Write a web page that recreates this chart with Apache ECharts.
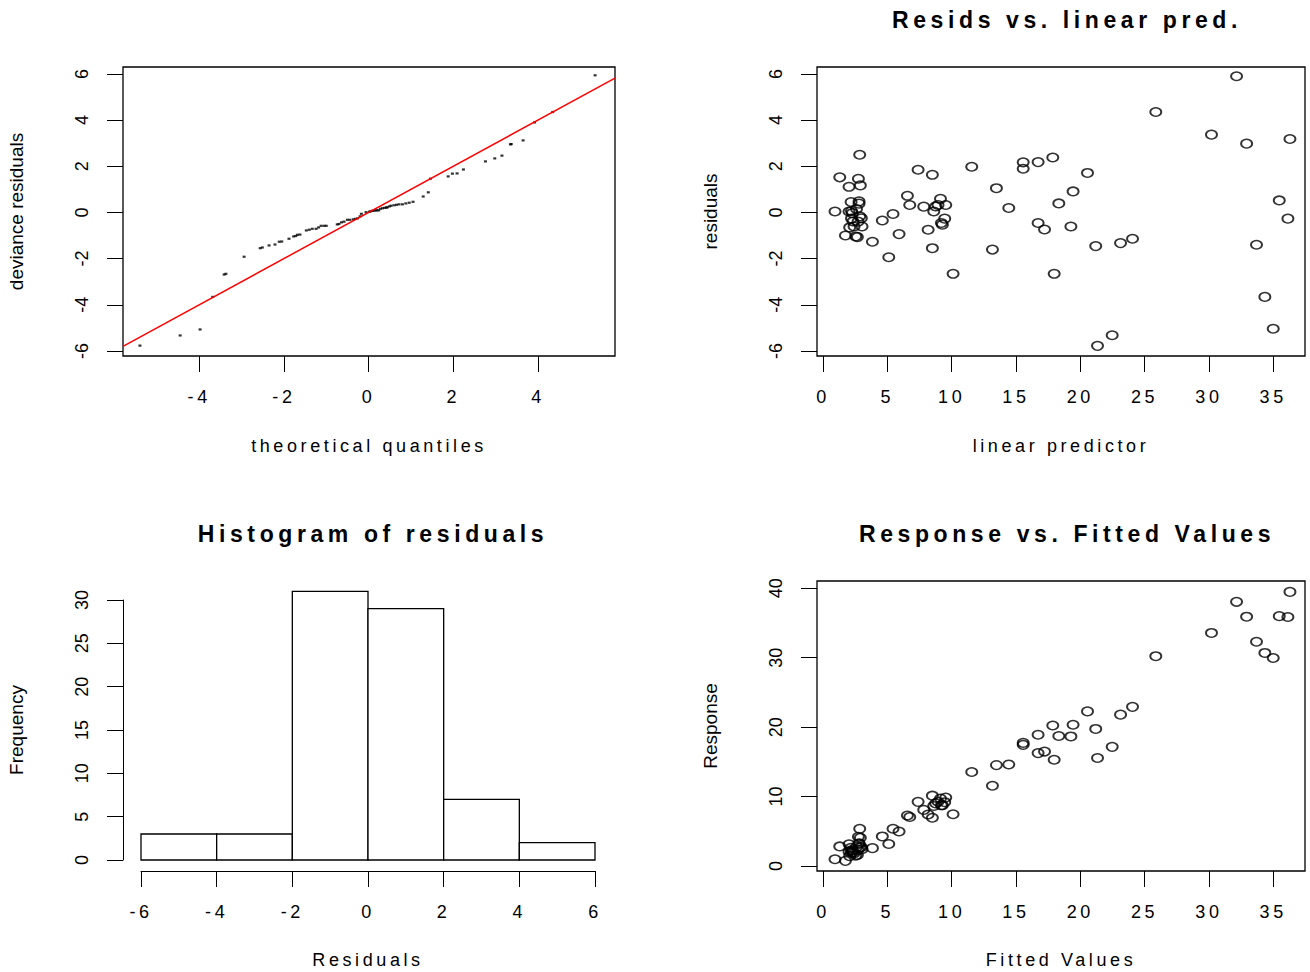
<!DOCTYPE html>
<html><head><meta charset="utf-8">
<script src="https://cdn.jsdelivr.net/npm/echarts@6/dist/echarts.min.js"></script>
<style>html,body{margin:0;padding:0;background:#fff}#chart{width:1310px;height:972px}</style>
</head><body><div id="chart"></div>
<script>
// ---- data ----
const fitted = [32.15,25.87,30.20,32.93,36.30,2.85,7.39,8.50,11.56,15.56,
  15.56,16.72,17.86,20.56,1.30,2.75,2.02,2.90,13.48,19.44,
  6.56,6.74,7.83,9.13,8.76,8.94,9.54,8.61,14.44,18.33,
  35.47,36.14,0.93,2.02,2.18,2.80,2.80,2.28,2.98,2.33,
  2.07,2.41,3.03,1.74,2.67,2.54,3.84,4.61,5.44,5.91,
  5.11,8.17,8.50,9.46,9.28,9.20,10.11,13.17,16.72,17.22,
  17.97,19.27,21.20,23.13,24.06,21.34,22.48,33.70,34.35,35.00,
  2.21,2.60,2.85,2.21,2.72];
const resid = [5.90,4.35,3.37,2.98,3.18,2.50,1.85,1.63,1.98,2.17,
  1.89,2.18,2.38,1.71,1.52,1.46,1.11,1.17,1.05,0.91,
  0.72,0.32,0.25,0.59,0.26,0.32,0.32,0.04,0.19,0.39,
  0.52,-0.27,0.04,0.04,0.45,0.48,0.38,-0.03,-0.25,-0.39,
  -0.65,-0.61,-0.61,-1.00,-1.07,-1.04,-1.27,-0.35,-0.07,-0.94,
  -1.94,-0.75,-1.55,-0.27,-0.53,-0.46,-2.66,-1.61,-0.46,-0.74,
  -2.66,-0.61,-1.46,-1.33,-1.14,-5.78,-5.32,-1.40,-3.66,-5.04,
  0.06,0.15,-0.17,-0.26,-0.40];
const response = [38.05,30.22,33.57,35.91,39.48,5.35,9.24,10.13,13.54,17.73,
  17.45,18.90,20.24,22.27,2.82,4.21,3.13,4.07,14.53,20.35,
  7.28,7.06,8.08,9.72,9.02,9.26,9.86,8.65,14.63,18.72,
  35.99,35.87,0.97,2.06,2.63,3.28,3.18,2.25,2.73,1.94,
  1.42,1.80,2.42,0.74,1.60,1.50,2.57,4.26,5.37,4.97,
  3.17,7.42,6.95,9.19,8.75,8.74,7.45,11.56,16.26,16.48,
  15.31,18.66,19.74,21.80,22.92,15.56,17.16,32.30,30.69,29.96,
  2.27,2.75,2.68,1.95,2.32];
const qqTheo = [-5.40,-4.45,-3.98,-3.68,-3.41,-3.37,-2.94,-2.56,-2.51,-2.35,
  -2.21,-2.11,-2.05,-1.88,-1.77,-1.72,-1.68,-1.62,-1.47,-1.40,
  -1.33,-1.24,-1.18,-1.12,-1.05,-1.00,-0.74,-0.70,-0.64,-0.58,
  -0.50,-0.44,-0.36,-0.31,-0.26,-0.20,-0.17,-0.06,0.02,0.05,
  0.09,0.13,0.16,0.20,0.24,0.28,0.33,0.38,0.42,0.44,
  0.49,0.53,0.60,0.66,0.72,0.80,0.88,0.96,1.05,1.29,
  1.41,1.46,1.88,1.98,2.09,2.24,2.76,2.98,3.15,3.35,
  3.37,3.65,3.92,4.35,5.35];
const qqResid = [-5.77,-5.33,-5.07,-3.66,-2.69,-2.66,-1.92,-1.55,-1.52,-1.43,
  -1.39,-1.27,-1.26,-1.14,-1.04,-1.02,-0.97,-0.96,-0.78,-0.75,
  -0.71,-0.71,-0.65,-0.58,-0.58,-0.58,-0.52,-0.50,-0.43,-0.40,
  -0.32,-0.32,-0.30,-0.28,-0.26,-0.17,-0.06,0.01,0.03,0.05,
  0.07,0.08,0.09,0.09,0.09,0.16,0.18,0.20,0.21,0.22,
  0.26,0.29,0.31,0.33,0.35,0.35,0.39,0.42,0.46,0.69,
  0.87,1.46,1.56,1.68,1.69,1.86,2.21,2.34,2.46,2.95,
  2.96,3.12,3.90,4.35,5.94];
const histBreaks = [-6,-4,-2,0,2,4,6];
const histCounts = [3,3,31,29,7,2];
const qqXTicks = [-4,-2,0,2,4];
const residTicks = [-6,-4,-2,0,2,4,6];
const fittedTicks = [0,5,10,15,20,25,30,35];
const responseTicks = [0,10,20,30,40];
const titles = ['Resids vs. linear pred.','Histogram of residuals','Response vs. Fitted Values'];
const axisNames = {qqX:'theoretical quantiles', qqY:'deviance residuals', rX:'linear predictor', rY:'residuals',
  hX:'Residuals', hY:'Frequency', fX:'Fitted Values', fY:'Response'};

// axis limits (R's 4% extension)
const qqXLim = [-5.80, 5.82];
const residLim = [-6.22, 6.30];
const fitLim = [-0.47, 37.47];
const respLim = [-0.72, 41.05];

const FONT = 'Liberation Sans';
const tickLen = 16;
function valAxis(gi, lim, ticks, name, gap, isY, extra){
  return Object.assign({
    type:'value', gridIndex:gi, min:lim[0], max:lim[1], scale:true,
    name:name, nameLocation:'middle', nameGap:gap,
    nameTextStyle:{color:'#000', fontSize: isY?19:18, fontFamily:FONT},
    axisLine:{show:false, onZero:false},
    splitLine:{show:false},
    axisTick:{show:true, inside:false, length:tickLen, customValues:ticks, lineStyle:{color:'#000', width:1}},
    axisLabel:{show:true, customValues:ticks, color:'#000', fontSize:18, fontFamily:FONT, margin:32, rotate: isY?90:0}
  }, extra||{});
}
const circle = {color:'rgba(0,0,0,0)', borderColor:'#000', borderWidth:1.7};

const chart = echarts.init(document.getElementById('chart'), null, {renderer:'svg', width:1310, height:972});
const option = {
  animation:false,
  backgroundColor:'#fff',
  textStyle:{fontFamily:FONT},
  title:[
    {text:titles[0], left:1062, top:3, textAlign:'center', textStyle:{fontSize:23, fontWeight:'bold', color:'#000', fontFamily:FONT}},
    {text:titles[1], left:368, top:517, textAlign:'center', textStyle:{fontSize:23, fontWeight:'bold', color:'#000', fontFamily:FONT}},
    {text:titles[2], left:1062, top:517, textAlign:'center', textStyle:{fontSize:23, fontWeight:'bold', color:'#000', fontFamily:FONT}}
  ],
  grid:[
    {left:123, top:67, width:492, height:289, show:true, borderColor:'#000', borderWidth:1.3, backgroundColor:'transparent'},
    {left:817, top:67, width:488, height:289, show:true, borderColor:'#000', borderWidth:1.3, backgroundColor:'transparent'},
    {left:141, top:600, width:454, height:260, show:false},
    {left:817, top:581, width:488, height:290, show:true, borderColor:'#000', borderWidth:1.3, backgroundColor:'transparent'}
  ],
  xAxis:[
    valAxis(0, qqXLim, qqXTicks, axisNames.qqX, 81, false),
    valAxis(1, fitLim, fittedTicks, axisNames.rX, 81, false),
    {type:'value', gridIndex:2, min:histBreaks[0], max:histBreaks[histBreaks.length-1], interval:2, offset:11,
      name:axisNames.hX, nameLocation:'middle', nameGap:80, nameTextStyle:{color:'#000', fontSize:18, fontFamily:FONT},
      axisLine:{show:true, onZero:false, lineStyle:{color:'#000', width:1}}, splitLine:{show:false},
      axisTick:{show:true, length:tickLen, lineStyle:{color:'#000'}},
      axisLabel:{color:'#000', fontSize:18, fontFamily:FONT, margin:32, showMinLabel:true, showMaxLabel:true}},
    valAxis(3, fitLim, fittedTicks, axisNames.fX, 80, false)
  ],
  yAxis:[
    valAxis(0, residLim, residTicks, axisNames.qqY, 97, true),
    valAxis(1, residLim, residTicks, axisNames.rY, 97, true),
    {type:'value', gridIndex:2, min:0, max:30, interval:5, offset:18,
      name:axisNames.hY, nameLocation:'middle', nameGap:97, nameTextStyle:{color:'#000', fontSize:19, fontFamily:FONT},
      axisLine:{show:true, onZero:false, lineStyle:{color:'#000', width:1}}, splitLine:{show:false},
      axisTick:{show:true, length:tickLen, lineStyle:{color:'#000'}},
      axisLabel:{color:'#000', fontSize:18, fontFamily:FONT, margin:32, rotate:90, showMinLabel:true, showMaxLabel:true}},
    valAxis(3, respLim, responseTicks, axisNames.fY, 97, true)
  ],
  series:[
    {type:'scatter', xAxisIndex:0, yAxisIndex:0, symbol:'rect', symbolSize:[3,2.2],
      itemStyle:{color:'#000'}, z:2, silent:true,
      data: qqTheo.map((t,i)=>[t, qqResid[i]])},
    {type:'line', xAxisIndex:0, yAxisIndex:0, symbol:'none', z:3, silent:true,
      lineStyle:{color:'#ff0000', width:1.5},
      data: [[qqXLim[0], qqXLim[0]], [qqXLim[1], qqXLim[1]]]},
    {type:'scatter', xAxisIndex:1, yAxisIndex:1, symbol:'circle', symbolSize:[11,8.5], itemStyle:circle, silent:true,
      data: fitted.map((f,i)=>[f, resid[i]])},
    {type:'custom', xAxisIndex:2, yAxisIndex:2, silent:true,
      data: histCounts.map((c,i)=>[histBreaks[i], histBreaks[i+1], c]),
      renderItem:function(params, api){
        const p0 = api.coord([api.value(0), api.value(2)]);
        const p1 = api.coord([api.value(1), 0]);
        return {type:'rect', shape:{x:p0[0], y:p0[1], width:p1[0]-p0[0], height:p1[1]-p0[1]},
          style:{fill:'#fff', stroke:'#000', lineWidth:1.3}};
      }},
    {type:'scatter', xAxisIndex:3, yAxisIndex:3, symbol:'circle', symbolSize:[11,8.5], itemStyle:circle, silent:true,
      data: fitted.map((f,i)=>[f, response[i]])}
  ]
};
chart.setOption(option);

// R draws horizontal text with wide letter spacing; rotated text keeps normal spacing
function spaceText(){
  document.querySelectorAll('#chart text').forEach(function(t){
    const tr = t.getAttribute('transform') || '';
    let rotated = false;
    const m = tr.match(/matrix\(([^)]+)\)/);
    if (m) { const v = m[1].split(/[\s,]+/).map(Number); if (Math.abs(v[1]) > 0.01) rotated = true; }
    if (/rotate/.test(tr)) rotated = true;
    t.style.letterSpacing = rotated ? '0' : '0.2em';
  });
}
spaceText();
chart.on('finished', spaceText);
setTimeout(spaceText, 50);
</script></body></html>
